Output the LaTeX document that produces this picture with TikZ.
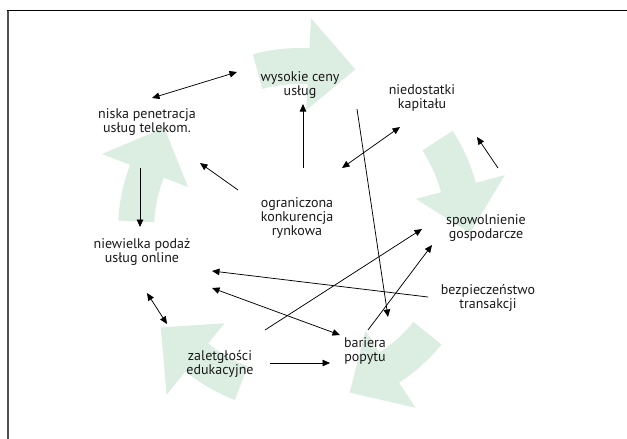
\documentclass[tikz,border=0pt]{standalone}
\usepackage{fontspec}
\setmainfont{PT Sans}
\usetikzlibrary{arrows.meta}
\definecolor{cyclegreen}{RGB}{220,237,225}
\definecolor{framegray}{RGB}{80,80,80}
\definecolor{txt}{RGB}{25,25,25}
\newcommand\cyclearrow[1]{%
  \pgfmathsetmacro\cyTail{#1-34}%
  \pgfmathsetmacro\cyBase{#1-16}%
  \fill[cyclegreen] plot[domain=\cyTail:\cyBase,samples=14] (\x:182)
    -- (\cyBase:212) -- (#1:170) -- (\cyBase:120) -- (\cyBase:146)
    -- plot[domain=\cyBase:\cyTail,samples=14] (\x:146) -- cycle;}
\begin{document}
\begin{tikzpicture}[x=1pt,y=-1pt,
  lbl/.style={align=center, inner sep=0pt, text=txt, font=\fontsize{14}{14.2}\selectfont},
  conn/.style={line width=0.75pt, -{Triangle[length=7.5pt,width=6.5pt]}},
  dconn/.style={line width=0.75pt, {Triangle[length=7.5pt,width=6.5pt]}-{Triangle[length=7.5pt,width=6.5pt]}}]
\useasboundingbox (0,0) rectangle (627,439);
% frame
\draw[framegray, line width=2.3pt] (7.8,439) -- (7.8,10);
\draw[black, line width=1.2pt] (6.7,10.6) -- (627,10.6);
% cycle arrows
\begin{scope}[shift={(300,230)}]
  \cyclearrow{-71}
  \cyclearrow{1}
  \cyclearrow{73}
  \cyclearrow{145}
  \cyclearrow{217}
\end{scope}
% labels
\node[lbl] (wys) at (300,85) {wysokie ceny\\usług};
\node[lbl] (nis) at (147,122) {niska penetracja\\usług telekom.};
\node[lbl] (nie) at (422,98) {niedostatki\\kapitału};
\node[lbl] (ogr) at (297,218) {ograniczona\\konkurencja\\rynkowa};
\node[lbl] (spo) at (486,228) {spowolnienie\\gospodarcze};
\node[lbl] (nwp) at (142,252) {niewielka podaż\\usług online};
\node[lbl] (bez) at (488,298) {bezpieczeństwo\\transakcji};
\node[lbl] (bar) at (365,351) {bariera\\popytu};
\node[lbl] (zal) at (220,364) {zaletgłości\\edukacyjne};
% connectors
\draw[dconn] ([shift={(5,-24)}]nis.center) -- ([shift={(-63,-13)}]wys.center);
\draw[conn] ([shift={(6,-50)}]ogr.center) -- ([shift={(3,19)}]wys.center);
\draw[conn] ([shift={(-59,-28)}]ogr.center) -- ([shift={(53,41)}]nis.center);
\draw[dconn] ([shift={(-22,29)}]nie.center) -- ([shift={(45,-50)}]ogr.center);
\draw[conn] ([shift={(57,24)}]wys.center) -- ([shift={(23,-34)}]bar.center);
\draw[conn] ([shift={(12,-60)}]spo.center) -- ([shift={(55,39)}]nie.center);
\draw[conn] ([shift={(-7,46)}]nis.center) -- ([shift={(-2,-25)}]nwp.center);
\draw[conn] ([shift={(-60,-1)}]bez.center) -- ([shift={(70,19)}]nwp.center);
\draw[dconn] ([shift={(70,36)}]nwp.center) -- ([shift={(-25,-16)}]bar.center);
\draw[conn] ([shift={(45,-34)}]zal.center) -- ([shift={(-64,1)}]spo.center);
\draw[conn] ([shift={(3,-21)}]bar.center) -- ([shift={(-54,17)}]spo.center);
\draw[dconn] ([shift={(5,41)}]nwp.center) -- ([shift={(-53,-40)}]zal.center);
\draw[conn] ([shift={(50,-1)}]zal.center) -- ([shift={(-35,12)}]bar.center);
\end{tikzpicture}
\end{document}
